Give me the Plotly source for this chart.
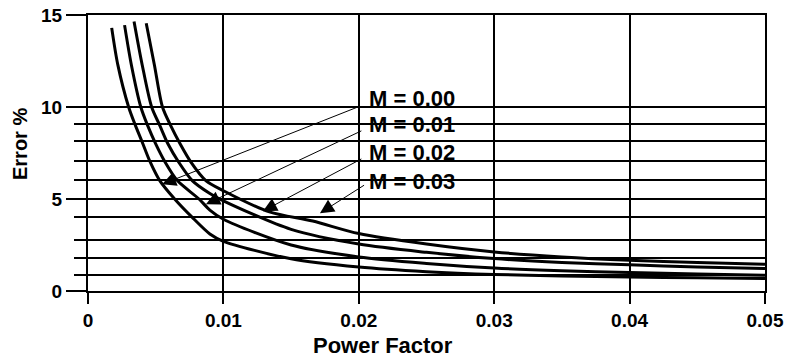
import plotly.graph_objects as go

# ---- data ----
pf_m000 = [0.00175, 0.0022, 0.0030, 0.0035, 0.0040, 0.0046, 0.0053, 0.0064, 0.0077, 0.0090, 0.010,
           0.015, 0.020, 0.025, 0.030, 0.035, 0.040, 0.045, 0.050]
err_m000 = [14.3, 12.3, 10.0, 9.0, 8.1, 7.0, 6.0, 5.0, 4.0, 3.1, 2.7,
            1.75, 1.3, 1.05, 0.9, 0.82, 0.76, 0.72, 0.68]

pf_m001 = [0.0027, 0.0032, 0.0039, 0.0044, 0.0050, 0.0057, 0.0066, 0.0082, 0.0090, 0.010,
           0.015, 0.020, 0.025, 0.030, 0.035, 0.040, 0.045, 0.050]
err_m001 = [14.45, 12.3, 10.0, 9.0, 8.0, 7.0, 6.0, 5.0, 4.4, 3.9,
            2.5, 1.85, 1.5, 1.25, 1.1, 1.0, 0.92, 0.85]

pf_m002 = [0.0034, 0.0040, 0.0047, 0.0053, 0.0059, 0.0067, 0.0077, 0.0090, 0.010,
           0.015, 0.020, 0.025, 0.030, 0.035, 0.040, 0.045, 0.050]
err_m002 = [14.65, 12.3, 10.0, 9.0, 8.0, 7.0, 6.0, 5.3, 4.9,
            3.35, 2.55, 2.1, 1.76, 1.55, 1.42, 1.3, 1.22]

pf_m003 = [0.0043, 0.0049, 0.0055, 0.0061, 0.0068, 0.0076, 0.0087, 0.010,
           0.0134, 0.0166, 0.020, 0.025, 0.030, 0.035, 0.040, 0.045, 0.050]
err_m003 = [14.55, 12.3, 10.0, 9.0, 8.0, 7.0, 6.0, 5.45,
            4.3, 3.8, 3.12, 2.55, 2.12, 1.85, 1.67, 1.55, 1.45]

series_names = ["M = 0.00", "M = 0.01", "M = 0.02", "M = 0.03"]
series_pf = [pf_m000, pf_m001, pf_m002, pf_m003]
series_err = [err_m000, err_m001, err_m002, err_m003]

# label anchor positions (data units) and arrow tips
label_x = [0.0206, 0.0206, 0.0206, 0.0206]
label_y = [10.48, 9.07, 7.55, 5.97]
tail_x = [0.0201, 0.0203, 0.0203, 0.0205]
tail_y = [10.05, 8.74, 7.22, 5.8]
tip_x = [0.00547, 0.00871, 0.01292, 0.01713]
tip_y = [5.8, 4.72, 4.34, 4.23]

x_tickvals = [0, 0.01, 0.02, 0.03, 0.04, 0.05]
x_ticktext = ["0", "0.01", "0.02", "0.03", "0.04", "0.05"]
y_tickvals = [0, 5, 10, 15]
y_ticktext = ["0", "5", "10", "15"]
y_minor_grid = [0.85, 1.8, 2.75, 4, 6.05, 7.05, 8.15, 9.1]

FONT = "Liberation Sans, Arial, sans-serif"

fig = go.Figure()
for name, xs, ys in zip(series_names, series_pf, series_err):
    fig.add_trace(go.Scatter(x=xs, y=ys, mode="lines", name=name,
                             line=dict(color="black", width=3, shape="spline", smoothing=0.8),
                             showlegend=False, hoverinfo="skip"))

annotations = []
for name, lx, ly, tx, ty, hx, hy in zip(series_names, label_x, label_y, tail_x, tail_y, tip_x, tip_y):
    annotations.append(dict(x=lx, y=ly, xref="x", yref="y", text="<b>" + name + "</b>",
                            showarrow=False, xanchor="left", yanchor="middle",
                            font=dict(family=FONT, size=22, color="black")))
    annotations.append(dict(x=hx, y=hy, xref="x", yref="y", ax=tx, ay=ty, axref="x", ayref="y",
                            text=" ", font=dict(size=1), showarrow=True, arrowhead=2,
                            arrowsize=2.8, arrowwidth=1, arrowcolor="black", standoff=0,
                            startstandoff=0))

annotations.append(dict(x=(383 - 88) / 677, y=-0.196, xref="paper", yref="paper",
                        text="<b>Power Factor</b>", showarrow=False, xanchor="center", yanchor="middle",
                        font=dict(family=FONT, size=22, color="black")))
annotations.append(dict(x=(20 - 88) / 677, y=(291 - 144) / 276, xref="paper", yref="paper",
                        text="<b>Error %</b>", showarrow=False, textangle=-90,
                        xanchor="center", yanchor="middle",
                        font=dict(family=FONT, size=20, color="black")))

fig.update_layout(
    width=785, height=358,
    margin=dict(l=88, r=20, t=15, b=67, autoexpand=False),
    paper_bgcolor="white", plot_bgcolor="white",
    annotations=annotations,
    xaxis=dict(range=[0, 0.05], tickmode="array", tickvals=x_tickvals, ticktext=x_ticktext,
               showgrid=True, gridcolor="black", gridwidth=2, automargin=False,
               showline=True, linecolor="black", linewidth=2, mirror=True,
               ticks="outside", ticklen=11, tickwidth=2, tickcolor="black",
               tickfont=dict(family=FONT, size=19, color="black", weight="bold"),
               zeroline=False, fixedrange=True),
    yaxis=dict(range=[0, 15], tickmode="array", tickvals=y_tickvals, ticktext=y_ticktext,
               showgrid=True, gridcolor="black", gridwidth=2, automargin=False,
               showline=True, linecolor="black", linewidth=2, mirror=True,
               ticks="outside", ticklen=20, tickwidth=2, tickcolor="black",
               tickfont=dict(family=FONT, size=19, color="black", weight="bold"),
               minor=dict(tickmode="array", tickvals=y_minor_grid, showgrid=True,
                          gridcolor="black", gridwidth=2, ticks="outside", ticklen=12,
                          tickwidth=2, tickcolor="black"),
               zeroline=False, fixedrange=True),
)

fig.write_html("out.html", config={"displayModeBar": False},
               post_script="document.body.style.margin='0';document.body.style.padding='0';document.body.style.overflow='hidden';")
